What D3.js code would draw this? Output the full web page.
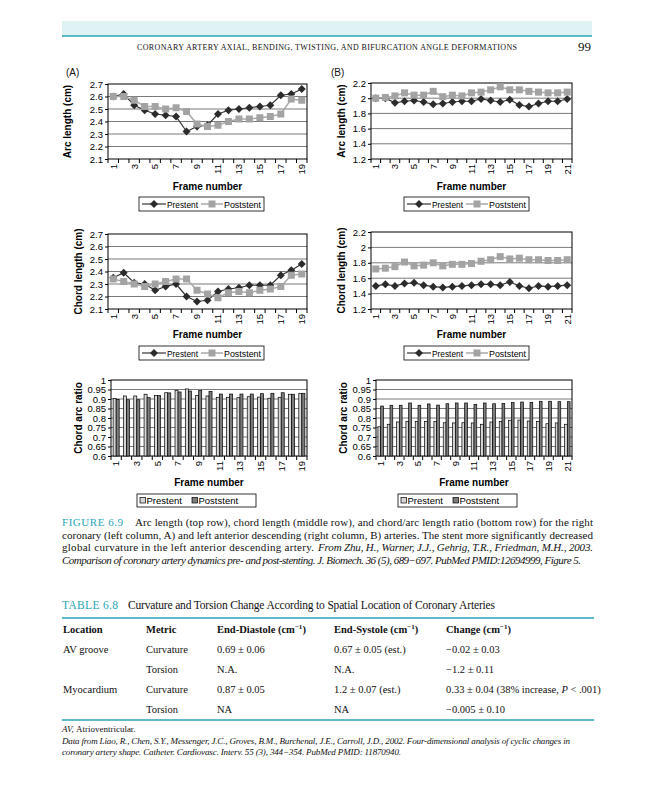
<!DOCTYPE html>
<html>
<head>
<meta charset="utf-8">
<script src="https://cdn.jsdelivr.net/npm/d3@7"></script>
<style>
  body { margin: 0; background: #fff; }
  svg { display: block; }
</style>
</head>
<body>
<svg id="page" width="648" height="800"></svg>
<script>
// ---- Data ----
const framesA = [1, 2, 3, 4, 5, 6, 7, 8, 9, 10, 11, 12, 13, 14, 15, 16, 17, 18, 19];
const framesB = [1, 2, 3, 4, 5, 6, 7, 8, 9, 10, 11, 12, 13, 14, 15, 16, 17, 18, 19, 20, 21];
const seriesNames = ["Prestent", "Poststent"];

const arcPrestentA = [2.60, 2.62, 2.53, 2.49, 2.46, 2.45, 2.44, 2.32, 2.36, 2.37, 2.46, 2.49, 2.50, 2.51, 2.52, 2.53, 2.61, 2.62, 2.66];
const arcPoststentA = [2.60, 2.60, 2.57, 2.52, 2.52, 2.50, 2.51, 2.48, 2.38, 2.36, 2.37, 2.40, 2.42, 2.42, 2.43, 2.44, 2.46, 2.58, 2.57];
const arcPrestentB = [2.00, 2.00, 1.94, 1.96, 1.97, 1.95, 1.92, 1.93, 1.95, 1.96, 1.96, 1.99, 1.97, 1.95, 1.98, 1.91, 1.89, 1.93, 1.96, 1.96, 1.99];
const arcPoststentB = [2.00, 2.01, 2.03, 2.07, 2.04, 2.04, 2.09, 2.02, 2.04, 2.03, 2.07, 2.08, 2.11, 2.15, 2.11, 2.11, 2.09, 2.08, 2.07, 2.07, 2.08];

const chordPrestentA = [2.35, 2.39, 2.31, 2.30, 2.25, 2.28, 2.30, 2.20, 2.16, 2.17, 2.24, 2.26, 2.27, 2.29, 2.29, 2.29, 2.37, 2.41, 2.46];
const chordPoststentA = [2.34, 2.32, 2.30, 2.28, 2.30, 2.32, 2.34, 2.34, 2.25, 2.22, 2.19, 2.23, 2.24, 2.23, 2.25, 2.26, 2.28, 2.37, 2.38];
const chordPrestentB = [1.50, 1.52, 1.50, 1.53, 1.54, 1.51, 1.49, 1.48, 1.49, 1.50, 1.51, 1.52, 1.52, 1.51, 1.55, 1.50, 1.47, 1.50, 1.49, 1.50, 1.51];
const chordPoststentB = [1.72, 1.73, 1.75, 1.81, 1.76, 1.77, 1.80, 1.76, 1.78, 1.78, 1.79, 1.82, 1.84, 1.88, 1.85, 1.86, 1.84, 1.84, 1.83, 1.83, 1.84];

const ratioPrestentA = [0.902, 0.916, 0.916, 0.925, 0.919, 0.933, 0.946, 0.953, 0.918, 0.916, 0.909, 0.909, 0.907, 0.912, 0.910, 0.904, 0.909, 0.925, 0.930];
const ratioPoststentA = [0.898, 0.896, 0.896, 0.907, 0.918, 0.932, 0.937, 0.942, 0.944, 0.940, 0.926, 0.926, 0.926, 0.926, 0.928, 0.930, 0.933, 0.925, 0.930];
const ratioPrestentB = [0.754, 0.767, 0.779, 0.782, 0.782, 0.782, 0.782, 0.775, 0.774, 0.775, 0.774, 0.767, 0.779, 0.782, 0.788, 0.789, 0.784, 0.782, 0.770, 0.774, 0.767];
const ratioPoststentB = [0.863, 0.867, 0.867, 0.879, 0.867, 0.874, 0.868, 0.875, 0.879, 0.879, 0.872, 0.879, 0.875, 0.877, 0.881, 0.884, 0.882, 0.888, 0.888, 0.886, 0.886];

// Tick values
const ticksLenA = [2.1, 2.2, 2.3, 2.4, 2.5, 2.6, 2.7];
const ticksLenB = [1.2, 1.4, 1.6, 1.8, 2, 2.2];
const ticksRatio = [0.6, 0.65, 0.7, 0.75, 0.8, 0.85, 0.9, 0.95, 1];

// Table
const tableHeader = ["Location", "Metric", "End-Diastole (cm", "End-Systole (cm", "Change (cm"];
const tableRows = [
  ["AV groove", "Curvature", "0.69 ± 0.06", "0.67 ± 0.05 (est.)", "−0.02 ± 0.03"],
  ["", "Torsion", "N.A.", "N.A.", "−1.2 ± 0.11"],
  ["Myocardium", "Curvature", "0.87 ± 0.05", "1.2 ± 0.07 (est.)", "0.33 ± 0.04 (38% increase, P < .001)"],
  ["", "Torsion", "NA", "NA", "−0.005 ± 0.10"]
];

// ---- Setup ----
const svg = d3.select("#page");
const sans = "'Liberation Sans', Arial, sans-serif";
const serif = "'Liberation Serif', 'Times New Roman', serif";
const teal = "#2aa6b8";
const fmt = d3.format("~g");

function txt(x, y, s, o = {}) {
  const t = svg.append("text")
    .attr("x", x).attr("y", y)
    .attr("font-family", o.family || serif)
    .attr("font-size", o.size || 11)
    .attr("fill", o.fill || "#111")
    .attr("text-anchor", o.anchor || "start")
    .text(s);
  if (o.italic) t.attr("font-style", "italic");
  if (o.bold) t.attr("font-weight", "bold");
  if (o.len) t.attr("textLength", o.len).attr("lengthAdjust", "spacing");
  return t;
}

// ---- Chart frame: grid, border, axes, titles ----
function drawFrame(p, frames, ticks) {
  const g = svg.append("g");
  const x = d3.scaleBand().domain(frames).range([p.x, p.x + p.w]);
  const y = d3.scaleLinear().domain([ticks[0], ticks[ticks.length - 1]]).range([p.y + p.h, p.y]);

  g.selectAll(".grid")
    .data(ticks.slice(1, -1))
    .join("line")
    .attr("x1", p.x).attr("x2", p.x + p.w)
    .attr("y1", (d) => y(d)).attr("y2", (d) => y(d))
    .attr("stroke", "#7a7a7a")
    .attr("stroke-width", 1);

  g.append("rect")
    .attr("x", p.x).attr("y", p.y)
    .attr("width", p.w).attr("height", p.h)
    .attr("fill", "none").attr("stroke", "#000").attr("stroke-width", 1);

  const yAxis = d3.axisLeft(y).tickValues(ticks).tickSize(3).tickPadding(2).tickFormat(fmt);
  const ya = g.append("g").attr("transform", `translate(${p.x},0)`).call(yAxis);
  ya.select(".domain").remove();
  ya.attr("font-family", sans).attr("font-size", 9.5);
  ya.selectAll("text").attr("fill", "#000");
  ya.selectAll("line").attr("stroke", "#000");

  // category ticks sit on band edges
  const edges = frames.map((f) => x(f)).concat([p.x + p.w]);
  g.selectAll(".xtick")
    .data(edges)
    .join("line")
    .attr("x1", (d) => d).attr("x2", (d) => d)
    .attr("y1", p.y + p.h).attr("y2", p.y + p.h + 4)
    .attr("stroke", "#000");

  g.selectAll(".xlab")
    .data(frames.filter((f) => f % 2 === 1))
    .join("text")
    .attr("transform", (d) => `translate(${x(d) + x.bandwidth() / 2},${p.y + p.h + 5}) rotate(-90)`)
    .attr("text-anchor", "end")
    .attr("dy", "0.35em")
    .attr("font-family", sans)
    .attr("font-size", 9.5)
    .text((d) => d);

  g.append("text")
    .attr("transform", `translate(${p.titleX},${p.y + p.h / 2}) rotate(-90)`)
    .attr("text-anchor", "middle")
    .attr("dy", "0.35em")
    .attr("font-family", sans).attr("font-size", 10).attr("font-weight", "bold")
    .text(p.title);

  g.append("text")
    .attr("x", p.x + p.w / 2).attr("y", p.xTitleY)
    .attr("text-anchor", "middle")
    .attr("font-family", sans).attr("font-size", 10).attr("font-weight", "bold")
    .text("Frame number");

  return { g, x, y };
}

const diamond = "M0,-4L4,0L0,4L-4,0Z";

function drawLines(p, frames, ticks, pre, post) {
  const { g, x, y } = drawFrame(p, frames, ticks);
  const cx = (i) => x(frames[i]) + x.bandwidth() / 2;
  const line = d3.line().x((d, i) => cx(i)).y((d) => y(d));

  g.append("path").attr("d", line(pre)).attr("fill", "none").attr("stroke", "#333").attr("stroke-width", 1.2);
  g.selectAll(".pre")
    .data(pre)
    .join("path")
    .attr("d", diamond)
    .attr("transform", (d, i) => `translate(${cx(i)},${y(d)})`)
    .attr("fill", "#2b2b2b");

  g.append("path").attr("d", line(post)).attr("fill", "none").attr("stroke", "#a9a9a9").attr("stroke-width", 1.5);
  g.selectAll(".post")
    .data(post)
    .join("rect")
    .attr("x", (d, i) => cx(i) - 3.5).attr("y", (d) => y(d) - 3.5)
    .attr("width", 7).attr("height", 7)
    .attr("fill", "#a3a3a3");

  // legend
  const L = p.legend;
  const lg = svg.append("g").attr("transform", `translate(${L.x},${L.y})`);
  lg.append("rect").attr("width", 125).attr("height", 14).attr("fill", "#fff").attr("stroke", "#000").attr("stroke-width", 0.8);
  lg.append("line").attr("x1", 3).attr("x2", 27).attr("y1", 7).attr("y2", 7).attr("stroke", "#333").attr("stroke-width", 1.2);
  lg.append("path").attr("d", diamond).attr("transform", "translate(15,7)").attr("fill", "#2b2b2b");
  lg.append("text").attr("x", 28).attr("y", 10.5).attr("font-family", sans).attr("font-size", 9.5)
    .attr("textLength", 31).attr("lengthAdjust", "spacingAndGlyphs").text(seriesNames[0]);
  lg.append("line").attr("x1", 62).attr("x2", 84).attr("y1", 7).attr("y2", 7).attr("stroke", "#a9a9a9").attr("stroke-width", 1.5);
  lg.append("rect").attr("x", 69.5).attr("y", 3.5).attr("width", 7).attr("height", 7).attr("fill", "#a3a3a3");
  lg.append("text").attr("x", 85).attr("y", 10.5).attr("font-family", sans).attr("font-size", 9.5)
    .attr("textLength", 37).attr("lengthAdjust", "spacingAndGlyphs").text(seriesNames[1]);
}

function drawBars(p, frames, ticks, pre, post) {
  const { g, x, y } = drawFrame(p, frames, ticks);
  const xs = d3.scaleBand().domain([0, 1]).range([0, x.bandwidth()]).paddingInner(0).paddingOuter(0.7);
  const fills = ["#d6d6d6", "#7c7c7c"];
  [pre, post].forEach((vals, s) => {
    g.selectAll(".bar" + s)
      .data(vals)
      .join("rect")
      .attr("x", (d, i) => x(frames[i]) + xs(s))
      .attr("y", (d) => y(d))
      .attr("width", xs.bandwidth())
      .attr("height", (d) => y(ticks[0]) - y(d))
      .attr("fill", fills[s])
      .attr("stroke", "#000")
      .attr("stroke-width", 0.7);
  });

  const L = p.legend;
  const lg = svg.append("g").attr("transform", `translate(${L.x},${L.y})`);
  lg.append("rect").attr("width", 119).attr("height", 13).attr("fill", "#fff").attr("stroke", "#000").attr("stroke-width", 0.8);
  lg.append("rect").attr("x", 3).attr("y", 3.5).attr("width", 5.5).attr("height", 5.5).attr("fill", fills[0]).attr("stroke", "#000").attr("stroke-width", 0.7);
  lg.append("text").attr("x", 9.5).attr("y", 10).attr("font-family", sans).attr("font-size", 9.5).text(seriesNames[0]);
  lg.append("rect").attr("x", 55).attr("y", 3.5).attr("width", 5.5).attr("height", 5.5).attr("fill", fills[1]).attr("stroke", "#000").attr("stroke-width", 0.7);
  lg.append("text").attr("x", 61.5).attr("y", 10).attr("font-family", sans).attr("font-size", 9.5).text(seriesNames[1]);
}

// ---- Running header ----
svg.append("rect").attr("x", 62).attr("y", 21).attr("width", 530).attr("height", 15).attr("fill", "#dff3f4");
svg.append("line").attr("x1", 62).attr("x2", 592).attr("y1", 36).attr("y2", 36).attr("stroke", teal).attr("stroke-width", 1.5);
txt(137, 50, "CORONARY ARTERY AXIAL, BENDING, TWISTING, AND BIFURCATION ANGLE DEFORMATIONS", { size: 8, len: 380 });
txt(591, 51, "99", { size: 13, anchor: "end" });

// ---- Panels ----
txt(66, 76, "(A)", { family: sans, size: 10 });
txt(331, 76, "(B)", { family: sans, size: 10 });

drawLines({ x: 108, y: 84, w: 199, h: 75, title: "Arc length (cm)", titleX: 67, xTitleY: 190,
  legend: { x: 139, y: 197 } }, framesA, ticksLenA, arcPrestentA, arcPoststentA);
drawLines({ x: 371, y: 83, w: 201, h: 76, title: "Arc length (cm)", titleX: 341, xTitleY: 190,
  legend: { x: 404, y: 197 } }, framesB, ticksLenB, arcPrestentB, arcPoststentB);
drawLines({ x: 108, y: 234, w: 199, h: 75, title: "Chord length (cm)", titleX: 78, xTitleY: 338,
  legend: { x: 139, y: 346 } }, framesA, ticksLenA, chordPrestentA, chordPoststentA);
drawLines({ x: 371, y: 232, w: 201, h: 77, title: "Chord length (cm)", titleX: 341, xTitleY: 338,
  legend: { x: 404, y: 346 } }, framesB, ticksLenB, chordPrestentB, chordPoststentB);
drawBars({ x: 111, y: 380, w: 196, h: 76, title: "Chord arc ratio", titleX: 78, xTitleY: 486,
  legend: { x: 137, y: 494 } }, framesA, ticksRatio, ratioPrestentA, ratioPoststentA);
drawBars({ x: 376, y: 380, w: 196, h: 76, title: "Chord arc ratio", titleX: 343, xTitleY: 486,
  legend: { x: 398, y: 494 } }, framesB, ticksRatio, ratioPrestentB, ratioPoststentB);

// ---- Figure caption ----
txt(62, 526, "FIGURE 6.9", { fill: teal, size: 11, len: 61 });
txt(135, 526, "Arc length (top row), chord length (middle row), and chord/arc length ratio (bottom row) for the right", { len: 458 });
txt(62, 538.5, "coronary (left column, A) and left anterior descending (right column, B) arteries. The stent more significantly decreased", { len: 531 });
txt(62, 551, "global curvature in the left anterior descending artery.", { len: 252 });
txt(318, 551, "From Zhu, H., Warner, J.J., Gehrig, T.R., Friedman, M.H., 2003.", { italic: true, len: 275 });
txt(62, 563.5, "Comparison of coronary artery dynamics pre- and post-stenting. J. Biomech. 36 (5), 689−697. PubMed PMID:12694999, Figure 5.", { italic: true, len: 519 });

// ---- Table ----
txt(62, 609, "TABLE 6.8", { fill: teal, size: 11.5, len: 56 });
txt(128, 609, "Curvature and Torsion Change According to Spatial Location of Coronary Arteries", { size: 11.5, len: 367 });
svg.append("line").attr("x1", 62).attr("x2", 594).attr("y1", 618).attr("y2", 618).attr("stroke", teal).attr("stroke-width", 1.5);

const colX = [63, 146, 217, 334, 446];
tableHeader.forEach((h, i) => {
  const t = txt(colX[i], 633, h, { bold: true, size: 10.5 });
  if (i >= 2) {
    t.append("tspan").attr("dy", -4).attr("font-size", 7).text("−1");
    t.append("tspan").attr("dy", 4).text(")");
  }
});
const rowY = [653, 673, 693, 713];
tableRows.forEach((r, ri) => {
  r.forEach((c, ci) => {
    if (!c) return;
    if (c.includes("P <")) {
      const t = txt(colX[ci], rowY[ri], "0.33 ± 0.04 (38% increase, ", { size: 10.5 });
      t.append("tspan").attr("font-style", "italic").text("P");
      t.append("tspan").text(" < .001)");
    } else {
      txt(colX[ci], rowY[ri], c, { size: 10.5 });
    }
  });
});
svg.append("line").attr("x1", 62).attr("x2", 594).attr("y1", 720).attr("y2", 720).attr("stroke", teal).attr("stroke-width", 1.5);

const fn = txt(62, 732, "AV", { italic: true, size: 9 });
fn.append("tspan").text(", ");
fn.append("tspan").attr("font-style", "normal").text("Atrioventricular.");
txt(62, 744, "Data from Liao, R., Chen, S.Y., Messenger, J.C., Groves, B.M., Burchenal, J.E., Carroll, J.D., 2002. Four-dimensional analysis of cyclic changes in", { italic: true, size: 9, len: 508 });
txt(62, 755, "coronary artery shape. Catheter. Cardiovasc. Interv. 55 (3), 344−354. PubMed PMID: 11870940.", { italic: true, size: 9, len: 339 });
</script>
</body>
</html>
